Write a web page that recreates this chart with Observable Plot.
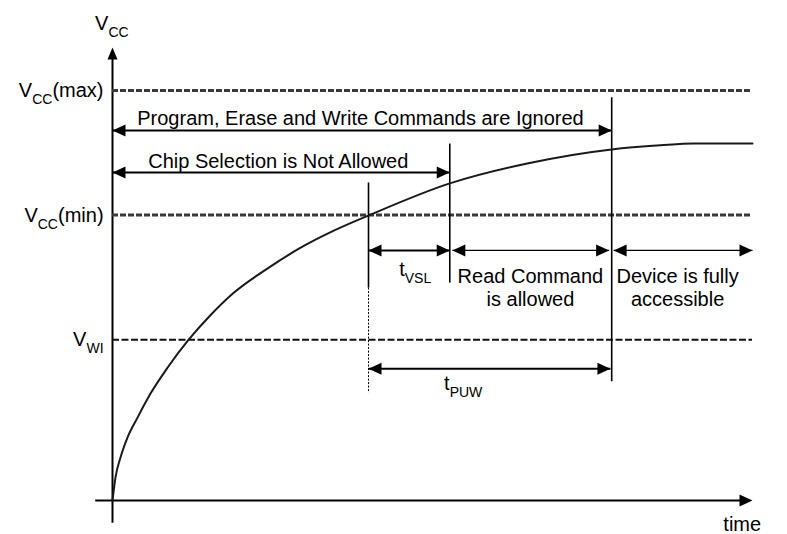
<!DOCTYPE html>
<html><head><meta charset="utf-8">
<script src="https://cdn.jsdelivr.net/npm/d3@7"></script>
<script src="https://cdn.jsdelivr.net/npm/@observablehq/plot@0.6"></script>
<style>body{margin:0;background:#fff} svg{display:block}</style>
</head><body><div id="chart"></div>
<script>
// Supply curve V_CC(t), arbitrary units (time 0..100, voltage 0..100)
const curveT = [0, 0.47, 1.25, 2.34, 3.91, 5.94, 8.59, 11.9, 15.3, 18.9, 24.2, 29.4, 34.5, 40, 52.7, 64.8, 78, 85.6, 90.8, 100];
const curveV = [0, 5.1, 9.5, 13.9, 18.3, 23.6, 29.3, 35.5, 40.9, 45.8, 51.2, 55.8, 59.5, 62.9, 70.0, 74.4, 77.5, 78.4, 78.8, 78.8];

// Threshold levels
const levelNames = ["V_{CC}(max)", "V_{CC}(min)", "V_{WI}"];
const levelV = [90.5, 63.0, 35.5];

// Interval arrows
const arrowNames = ["Program, Erase and Write Commands are Ignored", "Chip Selection is Not Allowed", "t_{VSL}", "Read Command\nis allowed", "Device is fully\naccessible", "t_{PUW}"];
const arrowStart = [0, 0, 40, 53.1, 78.3, 40];
const arrowEnd = [78, 52.7, 52.7, 77.6, 100, 77.8];
const arrowV = [81.7, 72.4, 55.2, 55.2, 55.2, 29.1];
const arrowThin = [false, false, false, true, true, false];
const labelT = [38.75, 25.9, 47.3, 65.3, 88.3, 54.8];
const labelV = [86.5, 77.1, 53.2, 51.7, 51.7, 28.1];

// Event markers (vertical lines)
const eventT = [40, 52.7, 78];
const eventTop = [70.2, 78.8, 89.0];
const eventBottom = [47.0, 48.1, 26.3];
const eventDashBottom = [23.8, null, null];

// Axis labels
const axisNames = ["V_{CC}", "time"];
const axisT = [-0.1, 98.4];
const axisV = [106.9, -3.7];
const axisAnchor = ["middle", "start"];

const curve = curveT.map((t, i) => ({t, v: curveV[i]}));
const levels = levelNames.map((name, i) => ({name, v: levelV[i]}));
const arrows = arrowNames.map((name, i) => ({name, t1: arrowStart[i], t2: arrowEnd[i], v: arrowV[i], thin: arrowThin[i], lt: labelT[i], lv: labelV[i]}));
const events = eventT.map((t, i) => ({t, top: eventTop[i], bottom: eventBottom[i], dash: eventDashBottom[i]}));
const axisLabels = axisNames.map((name, i) => ({name, t: axisT[i], v: axisV[i], anchor: axisAnchor[i]}));

const headRight = {draw(c){c.moveTo(0,0); c.lineTo(-13,-6); c.lineTo(-13,6); c.closePath();}};
const headLeft = {draw(c){c.moveTo(0,0); c.lineTo(13,-6); c.lineTo(13,6); c.closePath();}};
const headUp = {draw(c){c.moveTo(0,0); c.lineTo(-5,12); c.lineTo(5,12); c.closePath();}};

const leftHeads = arrows.map(a => ({t: a.t1, v: a.v}));
const rightHeads = arrows.map(a => ({t: a.t2, v: a.v})).concat([{t: 100, v: 0}]);
const upHeads = [{t: 0, v: 100}];

const font = "'Liberation Sans', Arial, Helvetica, sans-serif";

const chart = Plot.plot({
  width: 787, height: 534, margin: 0,
  x: {domain: [0, 100], range: [112, 752], axis: null},
  y: {domain: [0, 100], range: [500, 47], axis: null},
  style: {fontFamily: font, background: "#fff", color: "#000"},
  marks: [
    // axes
    Plot.link([{x1: -2.7, x2: 99, y: 0}], {x1: "x1", x2: "x2", y1: "y", y2: "y", stroke: "#000", strokeWidth: 2}),
    Plot.link([{x: 0, y1: -4.9, y2: 98}], {x1: "x", x2: "x", y1: "y1", y2: "y2", stroke: "#000", strokeWidth: 2}),
    // threshold levels
    Plot.ruleY(levels.slice(0, 2), {y: "v", x1: 0, x2: 100, stroke: "#3a3a3a", strokeWidth: 3, strokeDasharray: "6,2"}),
    Plot.ruleY(levels.slice(2), {y: "v", x1: 0, x2: 100, stroke: "#111", strokeWidth: 2, strokeDasharray: "7,2.5"}),
    Plot.text(levels, {x: -1.4, y: "v", text: "name", textAnchor: "end", lineAnchor: "middle", fontSize: 20, fill: "#000"}),
    // event lines
    Plot.link(events, {x1: "t", x2: "t", y1: "top", y2: "bottom", stroke: "#000", strokeWidth: 1.6}),
    Plot.link(events.filter(d => d.dash != null), {x1: "t", x2: "t", y1: "bottom", y2: "dash", stroke: "#000", strokeWidth: 1, strokeDasharray: "2,1.5"}),
    // supply curve
    Plot.line(curve, {x: "t", y: "v", curve: "monotone-x", stroke: "#1a1a1a", strokeWidth: 2}),
    // interval arrows
    Plot.link(arrows, {x1: "t1", x2: "t2", y1: "v", y2: "v", stroke: "#000", strokeWidth: d => d.thin ? 1.2 : 2}),
    Plot.dot(leftHeads, {x: "t", y: "v", symbol: headLeft, r: 4, fill: "#000", stroke: "none"}),
    Plot.dot(rightHeads, {x: "t", y: "v", symbol: headRight, r: 4, fill: "#000", stroke: "none"}),
    Plot.dot(upHeads, {x: "t", y: "v", symbol: headUp, r: 4, fill: "#000", stroke: "none"}),
    Plot.text(arrows, {x: "lt", y: "lv", text: "name", textAnchor: "middle", lineAnchor: "top", lineHeight: 1.15, fontSize: 20, fill: "#000"}),
    // axis labels
    Plot.text(axisLabels, {x: "t", y: "v", text: "name", textAnchor: d => d.anchor, lineAnchor: "top", fontSize: 20, fill: "#000"})
  ]
});

// render subscripts written as _{...}
chart.querySelectorAll("text").forEach(el => {
  if (el.children.length) return;
  const s = el.textContent;
  if (!s.includes("_{")) return;
  el.textContent = "";
  const re = /_\{([^}]*)\}/g;
  let last = 0, m, shift = 0;
  const add = (txt, sub) => {
    if (!txt) return;
    const ts = document.createElementNS("http://www.w3.org/2000/svg", "tspan");
    ts.textContent = txt;
    if (sub) { ts.setAttribute("font-size", 14); ts.setAttribute("dy", 7); shift = 7; }
    else if (shift) { ts.setAttribute("dy", -shift); shift = 0; }
    el.appendChild(ts);
  };
  while ((m = re.exec(s))) {
    add(s.slice(last, m.index), false);
    add(m[1], true);
    last = re.lastIndex;
  }
  add(s.slice(last), false);
});

document.getElementById("chart").appendChild(chart);
</script></body></html>
